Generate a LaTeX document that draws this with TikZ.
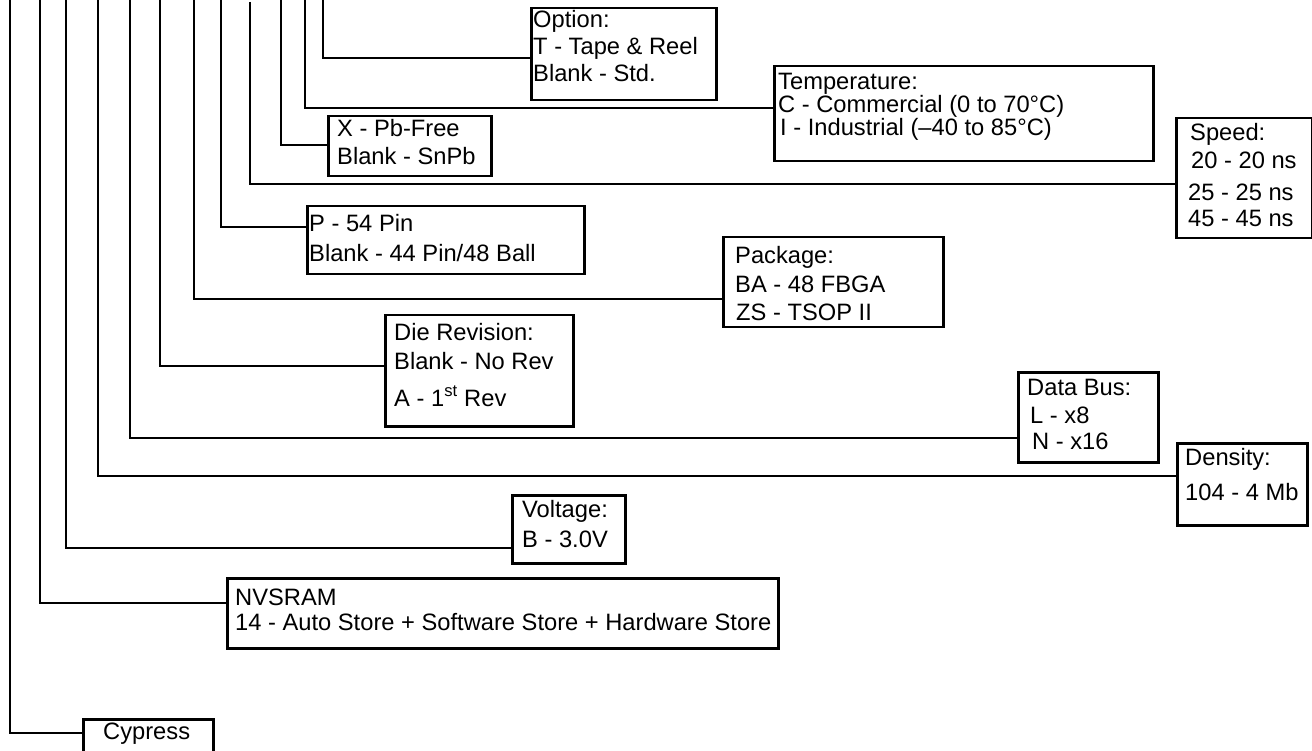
\documentclass[tikz,border=0pt]{standalone}
\usepackage{fontspec}
\setmainfont{Liberation Sans}
\newcommand\lblfont{\fontsize{23.7}{28}\selectfont}
\tikzset{
  box/.style={draw,line width=2.5pt,anchor=north west,inner sep=0pt},
  lbl/.style={anchor=base west,inner sep=0pt,font=\lblfont},
  lead/.style={line width=2.5pt}
}
\begin{document}
\begin{tikzpicture}[x=1pt,y=-1pt]
\useasboundingbox (0,0) rectangle (1312,751);
\clip (0,0) rectangle (1312,751);
\foreach \n/\x/\y/\w/\h in {opt/530/7/185/92,temp/773/65/379/95,speed/1175/117/136/120,pbf/327/115/163/60,pin/306/205/277/68,pkg/722/236/220/90,rev/384/314/188/111,bus/1017/371/140/90,dens/1176/442/130/82,volt/511/494/113/68,nvs/226/577/551/70,cyp/82/718/130/62}{\node[box,minimum width=\w pt,minimum height=\h pt] (\n) at (\x,\y){};}
\foreach \n/\x/\y in {cyp/10/733,nvs/40/603,volt/66/548,dens/98/476,bus/130/438,rev/160/366,pkg/194/299,pin/221/227,pbf/281/145,temp/305/108,opt/323/58}{\coordinate (top-\n) at (\x,0);\draw[lead] (top-\n) |- (\n.west |- 0,\y);}
\coordinate (top-speed) at (250,2);\draw[lead] (top-speed) |- (speed.west |- 0,184);
\foreach \n/\x/\y/\t in {opt1/533/28/Option:,opt2/533/55/T - Tape \& Reel,opt3/533/82/Blank - Std.,
  temp1/778/90/Temperature:,temp2/778/113/C - Commercial (0 to 70°C),temp3/780/136/I - Industrial (–40 to 85°C),
  speed1/1190/141/Speed:,speed2/1191/169/20 - 20 ns,speed3/1188/201/25 - 25 ns,speed4/1188/227/45 - 45 ns,
  pbf1/337/137/X - Pb-Free,pbf2/337/165/Blank - SnPb,
  pin1/309/232/P - 54 Pin,pin2/309/262/{Blank - 44 Pin/48 Ball},
  pkg1/735/264/Package:,pkg2/735/293/BA - 48 FBGA,pkg3/736/320/ZS - TSOP II,
  rev1/394/341/Die Revision:,rev2/394/370/Blank - No Rev,rev3/394/406/A - 1\textsuperscript{st} Rev,
  bus1/1027/395/Data Bus:,bus2/1030/423/L - x8,bus3/1032/449/N - x16,
  dens1/1185/465/Density:,dens2/1185/500/104 - 4 Mb,
  volt1/522/517/Voltage:,volt2/522/547/B - 3.0V,
  nvs1/235/605/NVSRAM,nvs2/235/630/14 - Auto Store + Software Store + Hardware Store,
  cyp1/103/739/Cypress}{\node[lbl] (\n) at (\x,\y){\t};}
\end{tikzpicture}
\end{document}
